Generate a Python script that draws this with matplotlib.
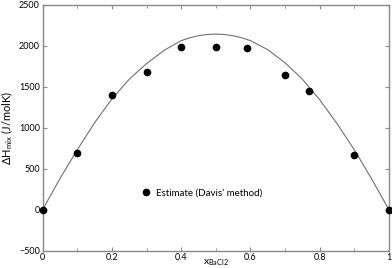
import matplotlib
matplotlib.use("Agg")
import matplotlib.pyplot as plt
from matplotlib.ticker import MultipleLocator

plt.rcParams['font.family'] = ['Lato', 'DejaVu Sans']

# estimated points (Davis' method)
x_est = [0.0, 0.1, 0.2, 0.3, 0.4, 0.5, 0.59, 0.7, 0.77, 0.9, 1.0]
h_est = [0, 686, 1392, 1680, 1977, 1977, 1965, 1647, 1449, 666, 0]

# model curve
x_fit = [0.0, 0.05, 0.1, 0.15, 0.2, 0.25, 0.3, 0.35, 0.4, 0.425, 0.45, 0.475,
         0.5, 0.525, 0.55, 0.575, 0.6, 0.65, 0.7, 0.75, 0.8, 0.85, 0.9, 0.95, 1.0]
h_fit = [0, 380, 730, 1060, 1350, 1590, 1780, 1940, 2060, 2095, 2120, 2135,
         2140, 2135, 2120, 2095, 2060, 1950, 1790, 1590, 1340, 1050, 730, 375, 0]

fig = plt.figure(figsize=(3.92, 2.68), dpi=100)
ax = fig.add_axes([0.109, 0.065, 0.883, 0.918])

ax.plot(x_fit, h_fit, color='#707070', lw=0.8, zorder=2)
ax.plot(x_est, h_est, 'o', color='black', ms=4.5, ls='none', zorder=3,
        label='Estimate (Davis\u2019 method)', clip_on=False)

ax.set_xlim(0, 1)
ax.set_ylim(-500, 2500)
ax.xaxis.set_major_locator(MultipleLocator(0.2))
ax.xaxis.set_minor_locator(MultipleLocator(0.1))
ax.yaxis.set_major_locator(MultipleLocator(500))
ax.xaxis.set_major_formatter(plt.FuncFormatter(lambda v, p: f'{v:g}'))

ax.tick_params(which='both', direction='in', top=True, right=True,
               labelsize=6.5, colors='#888888', labelcolor='black', pad=2)
ax.tick_params(which='major', length=3)
ax.tick_params(which='minor', length=2)
for s in ax.spines.values():
    s.set_color('#888888')
    s.set_linewidth(1.0)

ax.set_ylabel(r'$\mathregular{\Delta H_{mix}}$ (J/molK)', fontsize=8, labelpad=3)
ax.set_xlabel(r'$\mathregular{x_{BaCl2}}$', fontsize=7.5, labelpad=-3.5)

ax.legend(loc='center left', bbox_to_anchor=(0.284, 0.234), frameon=False,
          fontsize=7, handlelength=1, handletextpad=0.5, borderpad=0,
          borderaxespad=0)

fig.savefig('out.png', dpi=100)
